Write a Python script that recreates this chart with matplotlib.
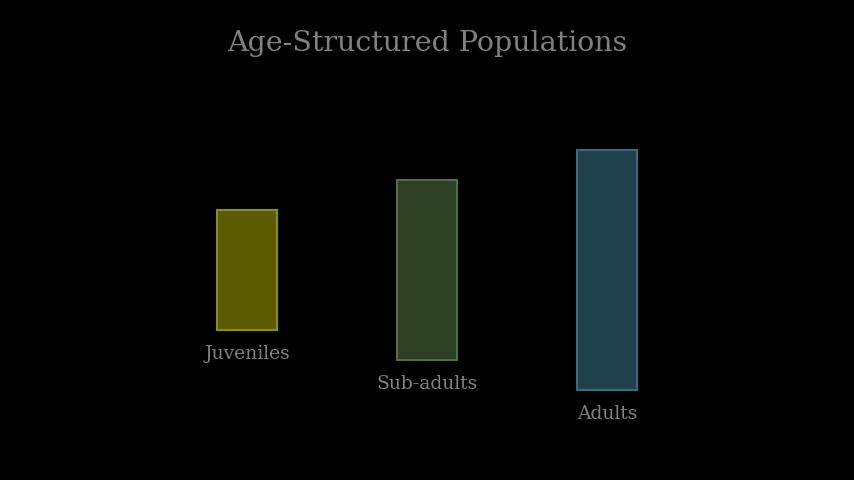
import matplotlib
matplotlib.use("Agg")
import matplotlib.pyplot as plt

categories = ["Juveniles", "Sub-adults", "Adults"]
values = [20, 30, 40]
fill_colors = ["#5a5a00", "#2e4024", "#1e404b"]
edge_colors = ["#8c8c1e", "#566c48", "#3b6b79"]

plt.rcParams['font.family'] = ['DejaVu Serif']

fig = plt.figure(figsize=(8.542, 4.802), dpi=100, facecolor="black")
ax = fig.add_axes([0, 0, 1, 1])
ax.set_facecolor("black")

x = list(range(len(categories)))
bottoms = [-v / 2 for v in values]
ax.bar(x, values, bottom=bottoms, width=1/3, color=fill_colors,
       edgecolor=edge_colors, linewidth=1.5)

for i, (c, v) in enumerate(zip(categories, values)):
    ax.annotate(c, xy=(i, -v / 2), xytext=(0, -17), textcoords="offset points",
                ha="center", va="center", color="#808080", fontsize=13.5)

ax.set_xlim(-247/180, (854-247)/180)
ax.set_ylim(-35, 45)
ax.axis("off")

fig.text(0.5, 1 - 43/480, "Age-Structured Populations", ha="center", va="center",
         color="#808080", fontsize=20.5)

fig.savefig("out.png", dpi=100, facecolor="black")
